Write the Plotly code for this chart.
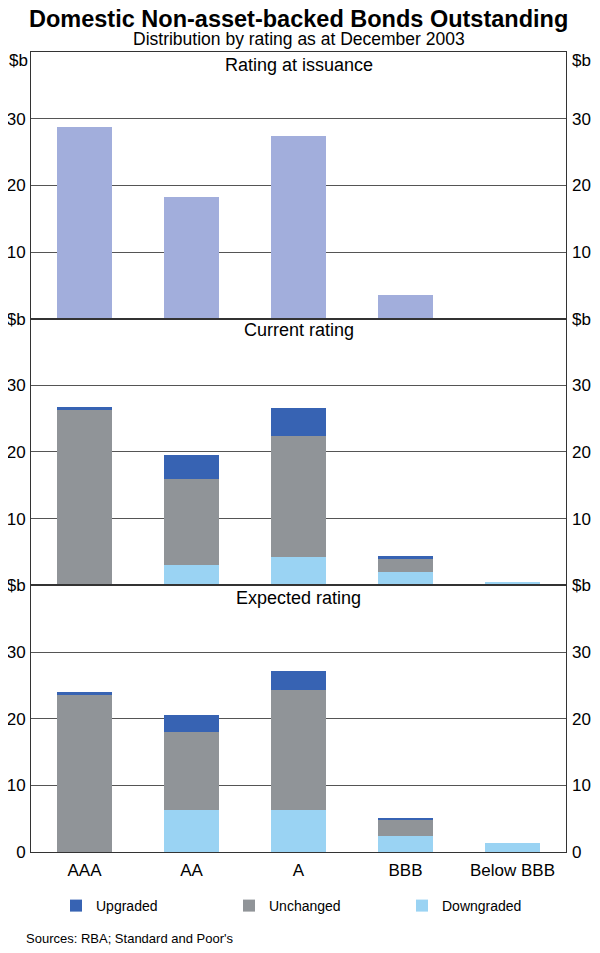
import plotly.graph_objects as go
from plotly.subplots import make_subplots

categories = ["AAA", "AA", "A", "BBB", "Below BBB"]
issuance = [28.7, 18.2, 27.4, 3.6, 0]

current_down = [0, 3.1, 4.25, 2.0, 0.55]
current_unch = [26.3, 12.9, 18.2, 1.95, 0]
current_up = [0.4, 3.6, 4.1, 0.4, 0]

expected_down = [0, 6.25, 6.25, 2.45, 1.4]
expected_unch = [23.6, 11.8, 18.0, 2.3, 0]
expected_up = [0.4, 2.5, 2.85, 0.35, 0]

panel_titles = ["Rating at issuance", "Current rating", "Expected rating"]
y_unit = "$b"

C_ISS = "#A2AEDC"
C_UP = "#3763B3"
C_UNCH = "#909498"
C_DOWN = "#9AD3F3"
FONT = "Arial, Liberation Sans, sans-serif"
LINE = "#333333"

# page body has an 8px margin; size the figure so the page does not scroll
OFF = 8
W, H = 600 - 2 * OFF, 953 - 2 * OFF
L, R, T, B = 23, 26, 44, 93

fig = make_subplots(rows=3, cols=1, shared_xaxes=True, vertical_spacing=0,
                    specs=[[{"secondary_y": True}]] * 3)

fig.add_trace(go.Bar(x=categories, y=issuance, marker_color=C_ISS, showlegend=False,
                     marker_line_width=0), row=1, col=1)

for r, (dn, un, up) in enumerate([(current_down, current_unch, current_up),
                                   (expected_down, expected_unch, expected_up)], start=2):
    show = (r == 2)
    fig.add_trace(go.Bar(x=categories, y=dn, name="Downgraded", marker_color=C_DOWN,
                         marker_line_width=0, showlegend=show, legendrank=3), row=r, col=1)
    fig.add_trace(go.Bar(x=categories, y=un, name="Unchanged", marker_color=C_UNCH,
                         marker_line_width=0, showlegend=show, legendrank=2), row=r, col=1)
    fig.add_trace(go.Bar(x=categories, y=up, name="Upgraded", marker_color=C_UP,
                         marker_line_width=0, showlegend=show, legendrank=1), row=r, col=1)

for r in range(1, 4):
    fig.add_trace(go.Scatter(x=categories, y=[None] * 5, showlegend=False, hoverinfo="skip"),
                  row=r, col=1, secondary_y=True)

for r in range(1, 4):
    if r == 1:
        vals, texts = [10, 20, 30], ["10", "20", "30"]
    elif r == 2:
        vals, texts = [10, 20, 30, 40], ["10", "20", "30", y_unit]
    else:
        vals, texts = [0, 10, 20, 30, 40], ["0", "10", "20", "30", y_unit]
    common = dict(range=[0, 40], tickvals=vals, ticktext=texts,
                  tickfont=dict(family=FONT, size=17, color="black"),
                  zeroline=False, ticks="", fixedrange=True)
    fig.update_yaxes(row=r, col=1, secondary_y=False, showgrid=True, gridcolor="#555555",
                     gridwidth=1, showline=True, linecolor=LINE, linewidth=1, mirror=True,
                     ticklabelstandoff=1, **common)
    fig.update_yaxes(row=r, col=1, secondary_y=True, showgrid=False, showline=False,
                     ticklabelstandoff=5, **common)
    fig.update_xaxes(row=r, col=1, domain=[0, 1], showline=True, linecolor=LINE, linewidth=1,
                     mirror=True, ticks="", showticklabels=(r == 3), ticklabelstandoff=3,
                     tickfont=dict(family=FONT, size=17, color="black"))

fig.update_layout(
    width=W, height=H,
    barmode="stack", bargap=0.49,
    plot_bgcolor="white", paper_bgcolor="white",
    margin=dict(l=L, r=R, t=T, b=B, autoexpand=False),
    font=dict(family=FONT, color="black"),
    legend=dict(orientation="h", xref="container", x=(56 - OFF) / W, xanchor="left",
                yref="container", y=1 - 882 / H, yanchor="top",
                entrywidth=128, entrywidthmode="pixels", traceorder="normal",
                font=dict(family=FONT, size=14, color="black")),
    showlegend=True,
)


def py(screen_y):
    fy = screen_y - OFF
    return 1 - (fy - T) / (H - T - B)


def px(screen_x):
    fx = screen_x - OFF
    return (fx - L) / (W - L - R)


annots = [
    ("<b>Domestic Non-asset-backed Bonds Outstanding</b>", 19, 23.5),
    ("Distribution by rating as at December 2003", 39, 17.5),
    (panel_titles[0], 65, 18),
    (panel_titles[1], 330, 18),
    (panel_titles[2], 598, 18),
]
for text, ypix, size in annots:
    fig.add_annotation(text=text, xref="paper", x=0.5, yref="paper", y=py(ypix),
                       xanchor="center", yanchor="middle", showarrow=False,
                       font=dict(family=FONT, size=size, color="black"))

# unit labels at the top of the first panel
fig.add_annotation(text=y_unit, xref="paper", x=0, xshift=-1, yref="paper", y=py(61),
                   xanchor="right", yanchor="middle", showarrow=False,
                   font=dict(family=FONT, size=17, color="black"))
fig.add_annotation(text=y_unit, xref="paper", x=1, xshift=4, yref="paper", y=py(61),
                   xanchor="left", yanchor="middle", showarrow=False,
                   font=dict(family=FONT, size=17, color="black"))

fig.add_annotation(text="Sources: RBA; Standard and Poor's", xref="paper", x=px(24),
                   yref="paper", y=py(939), xanchor="left", yanchor="middle",
                   showarrow=False, font=dict(family=FONT, size=13, color="black"))

fig.write_html("out.html")
